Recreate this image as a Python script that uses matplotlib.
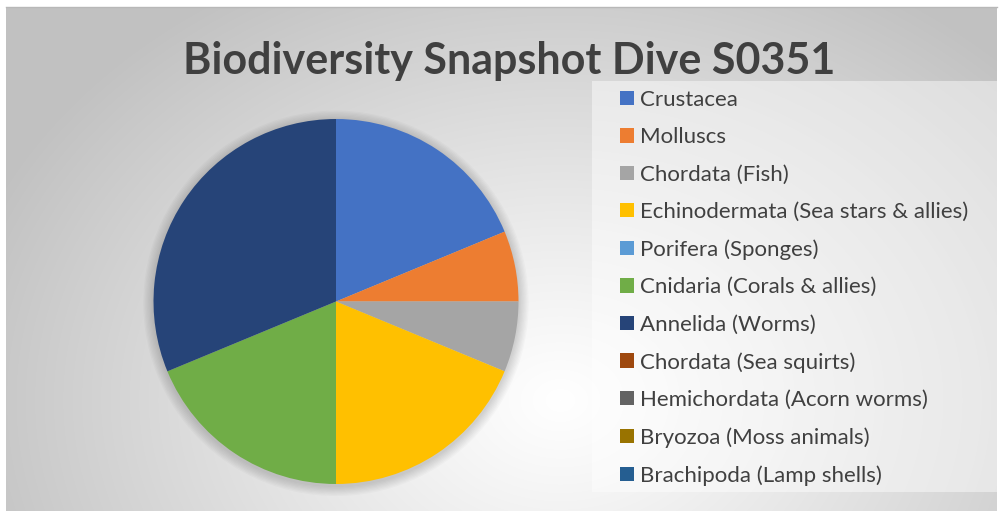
import numpy as np
import matplotlib.pyplot as plt
from matplotlib.patches import Rectangle, Circle

categories = ["Crustacea", "Molluscs", "Chordata (Fish)",
              "Echinodermata (Sea stars & allies)", "Porifera (Sponges)",
              "Cnidaria (Corals & allies)", "Annelida (Worms)",
              "Chordata (Sea squirts)", "Hemichordata (Acorn worms)",
              "Bryozoa (Moss animals)", "Brachipoda (Lamp shells)"]
counts = [3, 1, 1, 3, 0, 3, 5, 0, 0, 0, 0]
colors = ["#4472C4", "#ED7D31", "#A5A5A5", "#FFC000", "#5B9BD5", "#70AD47",
          "#264478", "#9E480E", "#636363", "#997300", "#255E91"]
title = "Biodiversity Snapshot Dive S0351"

plt.rcParams['font.family'] = ['Lato', 'DejaVu Sans']

fig = plt.figure(figsize=(10, 5.11), dpi=100)

# -----------------------------
# background (pixel coords)
# -----------------------------
bg = fig.add_axes([0, 0, 1, 1])
bg.set_xlim(0, 1000)
bg.set_ylim(511, 0)
bg.axis('off')

yy, xx = np.mgrid[8:511, 6:997]
r = np.sqrt(((xx - 560) / 620.0) ** 2 + ((yy - 400) / 480.0) ** 2)
shade = 1.0 - 0.24 * np.clip(r, 0, 1) ** 1.1
img = np.dstack([shade, shade, shade])
bg.imshow(img, extent=(6, 997, 511, 8), aspect='auto', interpolation='bilinear')
bg.plot([6, 997], [7.5, 7.5], color='#b8b8b8', lw=1)

# legend panel
bg.add_patch(Rectangle((592, 81), 405, 411, facecolor='white', alpha=0.45,
                       edgecolor='none'))

bg.text(509, 74, title, ha='center', va='baseline', fontsize=31,
        fontweight='bold', color='#404040')

# -----------------------------
# pie
# -----------------------------
cx, cy, rad = 336, 301.5, 182.5
ax = fig.add_axes([(cx - rad) / 1000, 1 - (cy + rad) / 511,
                   2 * rad / 1000, 2 * rad / 511])

# soft shadow under the pie
for k in range(8):
    ax.add_patch(Circle((0, -0.01), 1.0 + 0.007 * (k + 1), facecolor='black',
                        alpha=0.018, edgecolor='none', zorder=0, clip_on=False))

wedges, _ = ax.pie(counts, colors=colors, startangle=90, counterclock=False,
                   radius=1, wedgeprops=dict(linewidth=0, zorder=2))
ax.set_xlim(-1, 1)
ax.set_ylim(-1, 1)
ax.set_aspect('auto')
ax.axis('off')

fig.legend(wedges, categories, loc='upper left',
           bbox_to_anchor=(0.620, 1 - 90 / 511), frameon=False,
           fontsize=16, labelcolor='#404040', handlelength=0.63,
           handleheight=0.63, handletextpad=0.27, labelspacing=0.78,
           borderpad=0, borderaxespad=0)

plt.savefig("out.png", dpi=100)
plt.close()
